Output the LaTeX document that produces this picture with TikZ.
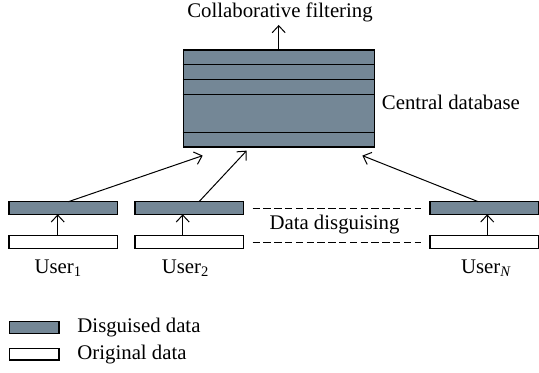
\documentclass[tikz,border=0pt]{standalone}
\usepackage{fontspec}
\setmainfont{Liberation Serif}
\usetikzlibrary{arrows.meta, positioning, calc}
\definecolor{disguise}{RGB}{116,135,150}
\tikzset{
    datbox/.style={draw=black, line width=0.6pt, minimum width=54.15pt, minimum height=6.3pt, inner sep=0pt, outer sep=0pt},
    disgbox/.style={datbox, fill=disguise},
    origbox/.style={datbox, fill=white},
    arr/.style={-{Straight Barb[length=3.5pt,width=6.5pt]}, line width=0.5pt},
    lbl/.style={font=\fontsize{10.4}{12.5}\selectfont, inner sep=0pt}
}

\begin{document}
\begin{tikzpicture}[x=0.5pt, y=-0.5pt]
    \useasboundingbox (0,0) rectangle (539,372);

    % central database
    \node[draw, line width=0.6pt, fill=disguise, minimum width=95.4pt, minimum height=48.5pt, inner sep=0pt] (db) at (278.7,98.5) {};
    \foreach \d in {15.3,30.3,45.3,82.7}
      \draw[line width=0.6pt] ($(db.north west)+(0,\d)$) -- ($(db.north east)+(0,\d)$);
    \node[lbl, anchor=west] (dblabel) at (381.5,102) {Central database};

    \node[lbl] (cf) at (280,12) {Collaborative filtering};
    \draw[arr, shorten >=1.5pt] (db.north) -- (db.north |- cf.south);

    % users
    \node[disgbox] (d1) at (63.2,208) {};
    \node[origbox] (o1) at (63.2,242) {};
    \node[disgbox] (d2) at (189.2,208) {};
    \node[origbox] (o2) at (189.2,242) {};
    \node[disgbox] (dN) at (484.2,208) {};
    \node[origbox] (oN) at (484.2,242) {};

    \foreach \n/\s in {1/-2.75pt, 2/-3.25pt, N/1.5pt}
      \draw[arr] ([xshift=\s]o\n.north) -- ([xshift=\s]d\n.south);

    \node[lbl, below=5.5pt of o1, xshift=-2.4pt] (u1) {User\textsubscript{1}};
    \node[lbl, below=5.5pt of o2, xshift=-1.8pt] (u2) {User\textsubscript{2}};
    \node[lbl, below=5.5pt of oN, xshift=1.1pt] (uN) {User\textsubscript{\textit{N}}};

    % into the database
    \coordinate (in1) at ($(db.south west)+(20,8)$);
    \coordinate (in2) at ($(db.south west)+(64,3)$);
    \coordinate (inN) at ($(db.south east)+(-12.3,8)$);
    \draw[arr] ([xshift=2.55pt]d1.north) -- (in1);
    \draw[arr] ([xshift=4.9pt]d2.north) -- (in2);
    \draw[arr] ([xshift=-2.95pt]dN.north) -- (inN);

    % data disguising
    \draw[dash pattern=on 3.7pt off 1.7pt, line width=0.5pt] ([xshift=4.6pt]d2.east) -- ([xshift=-4.6pt]dN.west);
    \draw[dash pattern=on 3.7pt off 1.7pt, line width=0.5pt] ([xshift=4.6pt]o2.east) -- ([xshift=-4.6pt]oN.west);
    \node[lbl] (dd) at (334.5,224.5) {Data disguising};

    % legend
    \node[disgbox, minimum width=24.85pt, minimum height=5.8pt] (legd) at (34.2,327.5) {};
    \node[origbox, minimum width=24.85pt, minimum height=5.8pt] (lego) at (34.2,354.2) {};
    \node[lbl, right=9pt of legd] (legdtxt) {Disguised data};
    \node[lbl, right=9pt of lego] (legotxt) {Original data};
\end{tikzpicture}
\end{document}
